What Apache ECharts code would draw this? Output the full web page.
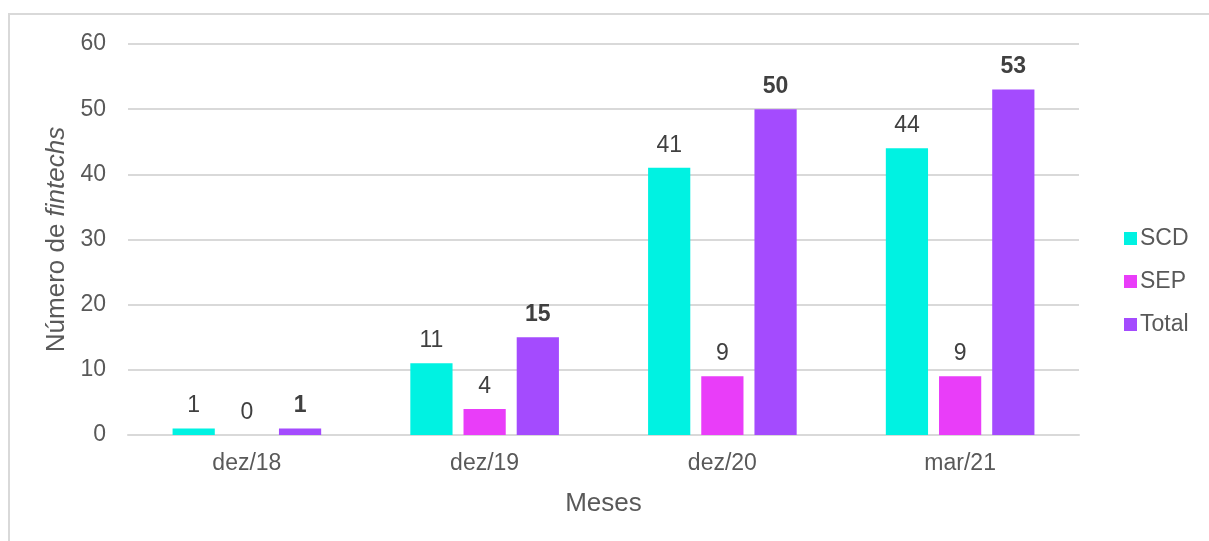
<!DOCTYPE html>
<html>
<head>
<meta charset="utf-8">
<script src="https://cdn.jsdelivr.net/npm/echarts@6/dist/echarts.min.js"></script>
<style>
html,body{margin:0;padding:0;background:#fff;}
#frame{position:absolute;left:8px;top:13px;width:1300px;height:600px;border:2px solid #d9d9d9;box-sizing:border-box;}
#chart{position:absolute;left:0;top:0;width:1209px;height:541px;}
</style>
</head>
<body>
<div id="frame"></div>
<div id="chart"></div>
<script>
const categories = ['dez/18', 'dez/19', 'dez/20', 'mar/21'];
const scd = [1, 11, 41, 44];
const sep = [0, 4, 9, 9];
const total = [1, 15, 50, 53];
const seriesNames = ['SCD', 'SEP', 'Total'];
const colors = ['#00F2E2', '#E93DF9', '#A44BFE'];

const font = 'Liberation Sans, Arial, sans-serif';
const chart = echarts.init(document.getElementById('chart'));

function bar(name, data, color, bold) {
  return {
    name: name,
    type: 'bar',
    data: data,
    barGap: '26%',
    barCategoryGap: '37.5%',
    itemStyle: { color: color },
    label: {
      show: true,
      position: 'top',
      distance: 11,
      color: '#404040',
      fontFamily: font,
      fontSize: 23,
      lineHeight: 23,
      fontWeight: bold ? 'bold' : 'normal'
    }
  };
}

chart.setOption({
  animation: false,
  color: colors,
  grid: { left: 128, right: 130, top: 44, bottom: 106 },
  legend: {
    orient: 'vertical',
    left: 1119,
    top: 222,
    itemWidth: 13,
    itemHeight: 13,
    itemGap: 20,
    icon: 'rect',
    data: seriesNames,
    textStyle: { color: '#595959', fontFamily: font, fontSize: 23, lineHeight: 20, padding: [0, 0, 0, -2] }
  },
  xAxis: {
    type: 'category',
    data: categories,
    name: 'Meses',
    nameLocation: 'middle',
    nameGap: 56,
    nameTextStyle: { color: '#595959', fontFamily: font, fontSize: 26 },
    axisLine: { lineStyle: { color: '#d9d9d9', width: 2 } },
    axisTick: { show: false },
    axisLabel: { color: '#595959', fontFamily: font, fontSize: 23, margin: 17 }
  },
  yAxis: {
    type: 'value',
    min: 0,
    max: 60,
    interval: 10,
    name: '{n|Número de }{i|fintechs}',
    nameLocation: 'middle',
    nameGap: 55,
    nameRotate: 90,
    nameTextStyle: {
      rich: {
        n: { color: '#595959', fontFamily: font, fontSize: 26 },
        i: { color: '#595959', fontFamily: font, fontSize: 26, fontStyle: 'italic' }
      }
    },
    axisLine: { show: false },
    axisTick: { show: false },
    splitLine: { lineStyle: { color: '#d9d9d9', width: 2 } },
    axisLabel: { color: '#595959', fontFamily: font, fontSize: 23, margin: 22 }
  },
  series: [
    bar(seriesNames[0], scd, colors[0], false),
    bar(seriesNames[1], sep, colors[1], false),
    bar(seriesNames[2], total, colors[2], true)
  ]
});
</script>
</body>
</html>
